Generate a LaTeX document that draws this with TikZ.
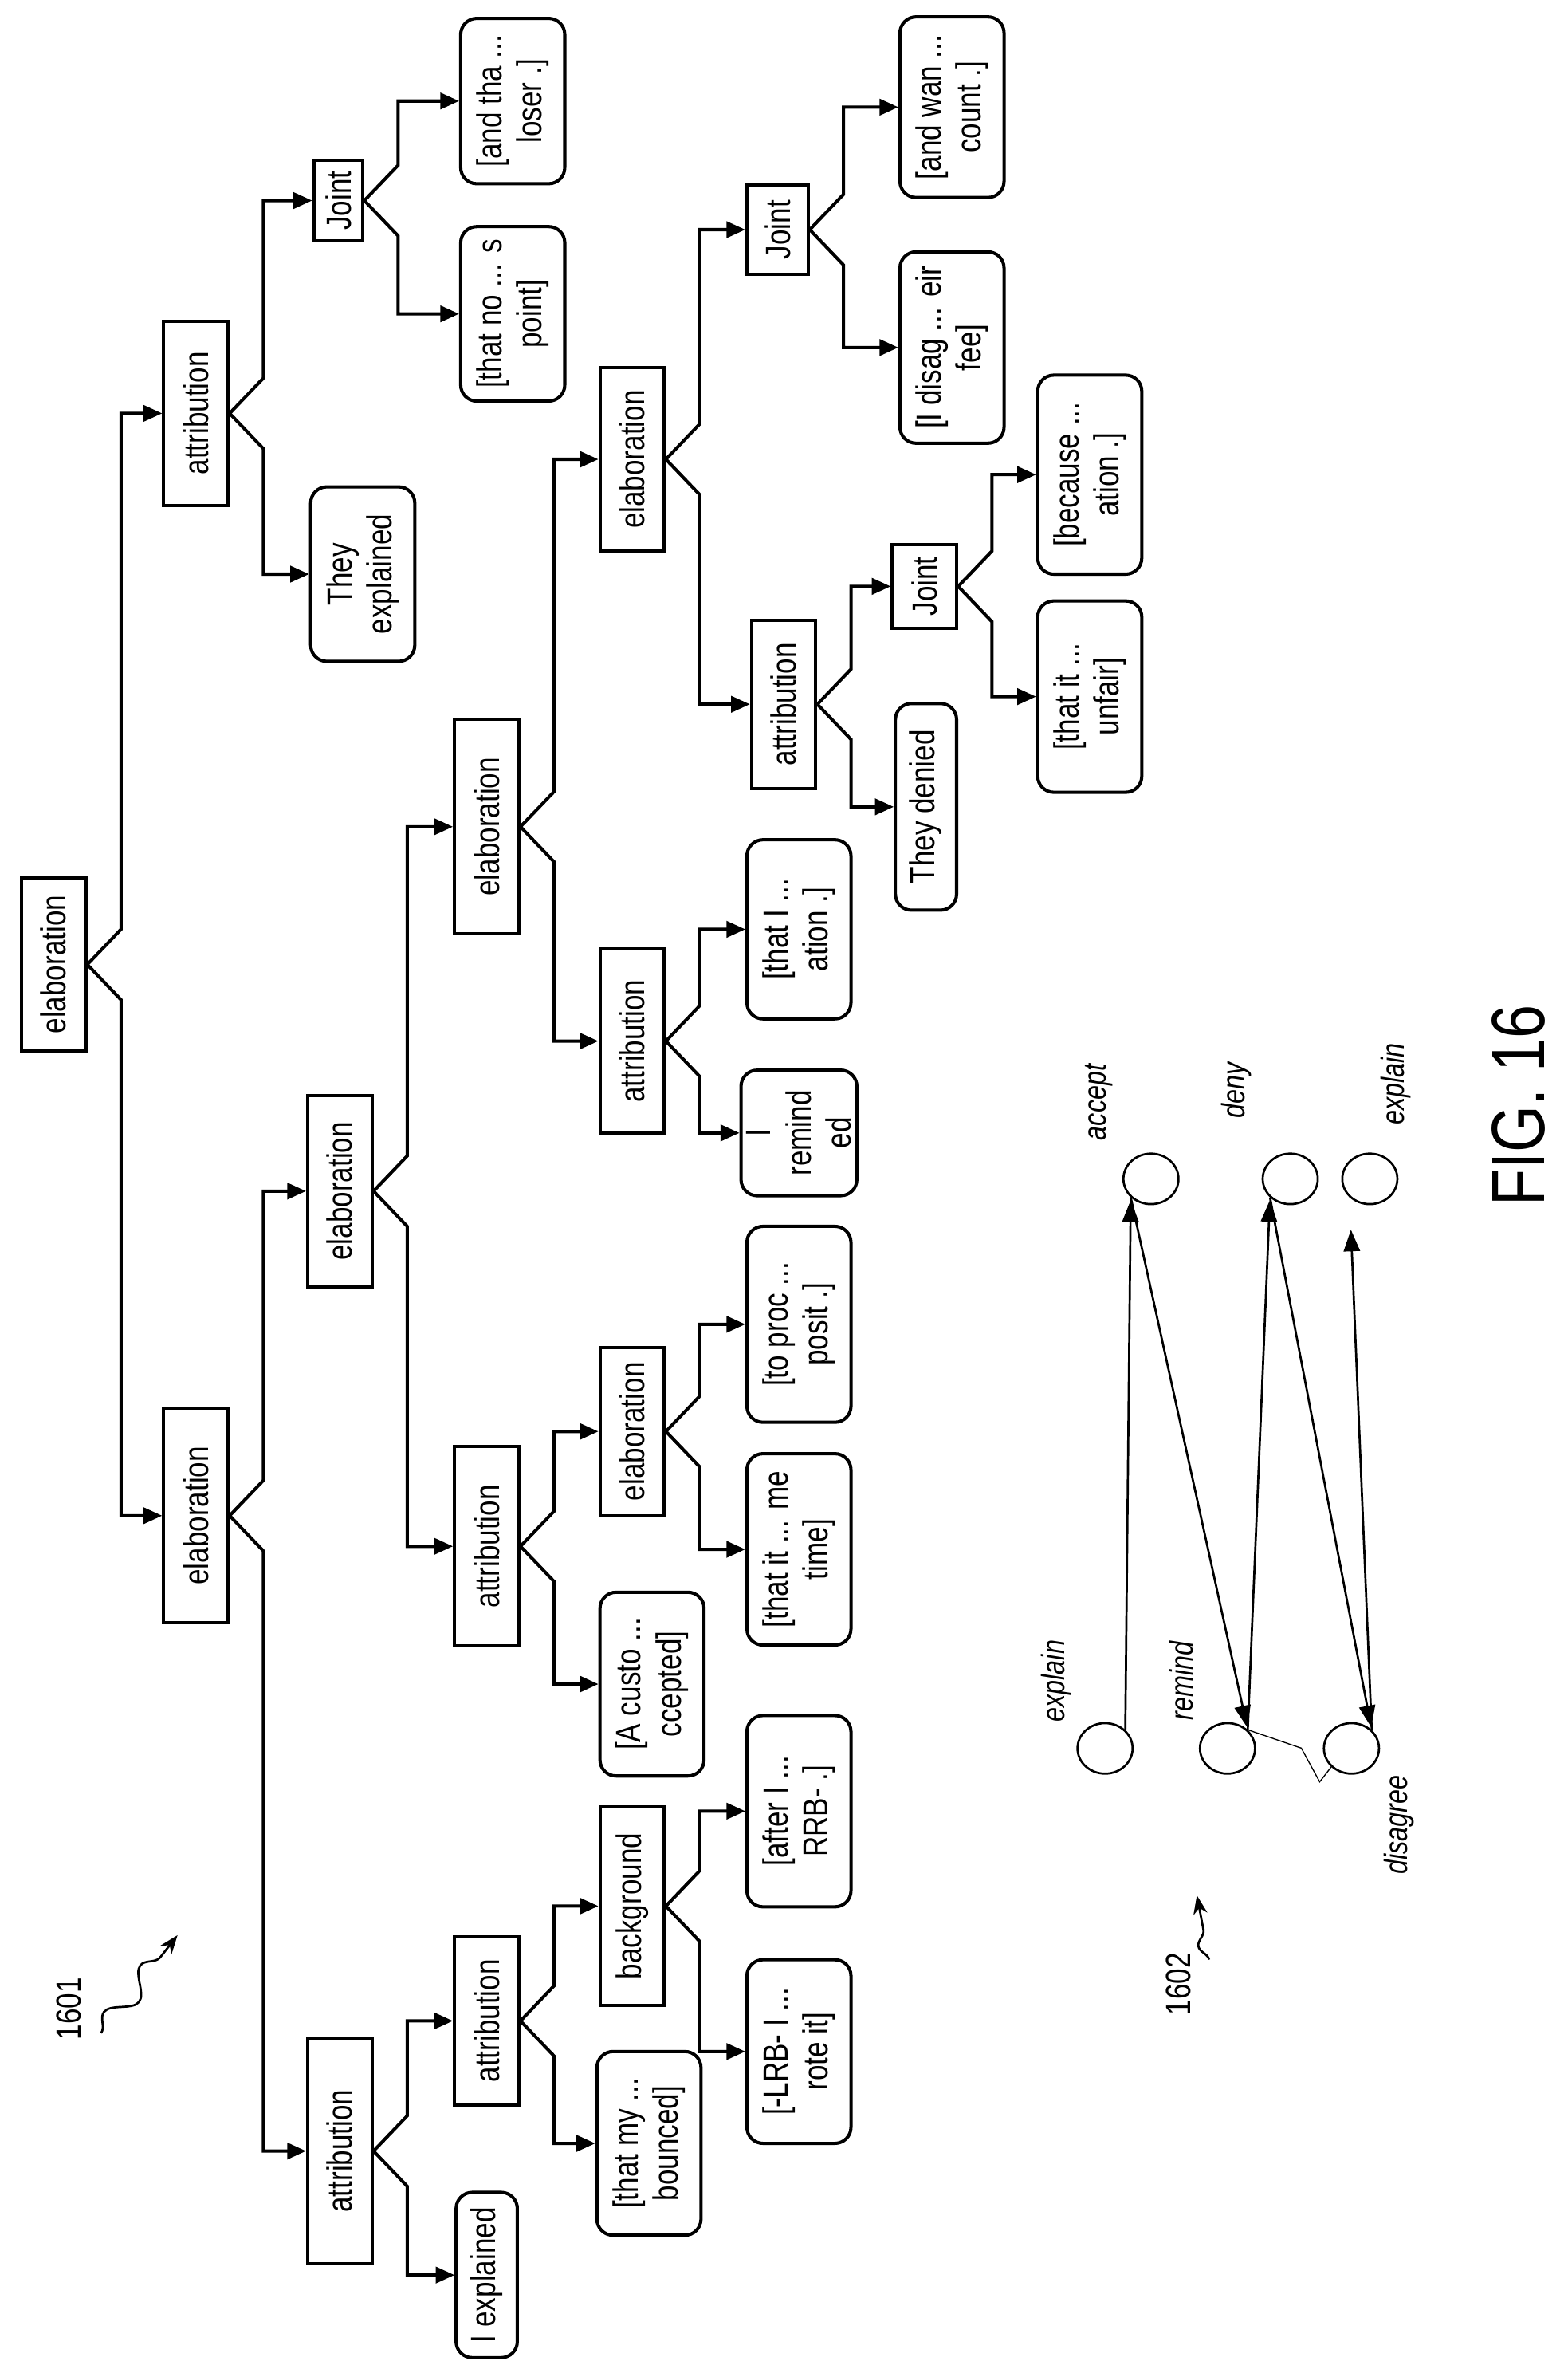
\documentclass[tikz,border=0pt]{standalone}
\usepackage{fontspec}
\setmainfont{Liberation Sans}[FakeStretch=0.8]
\usetikzlibrary{arrows.meta,positioning,decorations.pathmorphing,shapes.geometric}

\tikzset{
  rel/.style={draw, very thick, rotate=90, inner sep=2pt, minimum height=0.84cm,
    font=\fontsize{13}{15}\selectfont, minimum width=#1*0.2mm},
  rel/.default=110,
  edu/.style={draw, very thick, rounded corners=6pt, rotate=90, align=center, inner sep=2pt,
    minimum height=1.36cm, font=\fontsize{13}{15}\selectfont, minimum width=#1*0.2mm},
  edu/.default=120,
  link/.style={very thick, -{Triangle[length=7pt,width=6pt]}},
  act/.style={draw, thick, ellipse, minimum width=7.2mm, minimum height=6.6mm},
  actlabel/.style={rotate=90, font=\itshape\fontsize{12}{14}\selectfont},
  flow/.style={thick, -{Triangle[length=8pt,width=6pt]}, shorten >=1pt},
  refarrow/.style={thick, -{Stealth[length=7pt]}, decorate,
    decoration={snake, amplitude=4pt, segment length=22pt, post length=7pt}},
}

% parent, upper child, lower child
\newcommand{\fork}[3]{%
  \draw[link] (#1.south) -- ++(22,-23) |- (#2.north);
  \draw[link] (#1.south) -- ++(22,23) |- (#3.north);}

\begin{document}
\begin{tikzpicture}[x=0.2mm, y=-0.2mm]
  \useasboundingbox (0,0) rectangle (1024,1550);

  % discourse tree
  \node[rel=113] (e0) at (35,630) {elaboration};
  \node[rel=120] (a1) at (128,270) {attribution};
  \node[rel=140] (e1) at (128,990) {elaboration};
  \node[edu=114] (l1) at (237,375) {They\\explained};
  \node[rel=53, minimum height=0.64cm] (j1) at (221,131) {Joint};
  \node[edu=114] (l2) at (335,205) {[that no ... s\\point]};
  \node[edu=108] (l3) at (335,66) {[and tha ...\\loser .]};
  \node[rel=147] (a2) at (222,1405) {attribution};
  \node[rel=125] (e2) at (222,778) {elaboration};
  \node[edu=108, minimum height=0.8cm] (l4) at (318,1486) {I explained};
  \node[rel=110] (a3) at (318,1320) {attribution};
  \node[edu=120] (l5) at (424,1400) {[that my ...\\bounced]};
  \node[rel=130] (b1) at (413,1245) {background};
  \node[edu=120] (l6) at (522,1340) {[-LRB- I ...\\rote it]};
  \node[edu=125] (l7) at (522,1183) {[after I ...\\RRB- .]};
  \node[rel=130] (a4) at (318,1010) {attribution};
  \node[rel=140] (e3) at (318,540) {elaboration};
  \node[edu=120] (l8) at (426,1100) {[A custo ...\\ccepted]};
  \node[rel=110] (e4) at (413,935) {elaboration};
  \node[edu=125] (l9) at (522,1012) {[that it ... me\\time]};
  \node[edu=128] (l10) at (522,865) {[to proc ...\\posit .]};
  \node[rel=120] (a5) at (413,680) {attribution};
  \node[rel=120] (e5) at (413,300) {elaboration};
  \node[edu=82] (l11) at (522,740) {I\\remind\\ed};
  \node[edu=117] (l12) at (522,607) {[that I ...\\ation .]};
  \node[rel=110] (a6) at (512,460) {attribution};
  \node[rel=58, minimum height=0.8cm] (j2) at (508,150) {Joint};
  \node[edu=125] (l13) at (622,227) {[I disag ... eir\\fee]};
  \node[edu=118] (l14) at (622,70) {[and wan ...\\count .]};
  \node[edu=135, minimum height=0.8cm] (l15) at (605,527) {They denied};
  \node[rel=55, minimum height=0.84cm] (j3) at (604,383) {Joint};
  \node[edu=125] (l16) at (712,455) {[that it ...\\unfair]};
  \node[edu=130] (l17) at (712,310) {[because ...\\ation .]};

  \fork{e0}{a1}{e1}
  \fork{a1}{j1}{l1}
  \fork{j1}{l3}{l2}
  \fork{e1}{e2}{a2}
  \fork{a2}{a3}{l4}
  \fork{a3}{b1}{l5}
  \fork{b1}{l7}{l6}
  \fork{e2}{e3}{a4}
  \fork{a4}{e4}{l8}
  \fork{e4}{l10}{l9}
  \fork{e3}{e5}{a5}
  \fork{a5}{l12}{l11}
  \fork{e5}{j2}{a6}
  \fork{j2}{l14}{l13}
  \fork{a6}{j3}{l15}
  \fork{j3}{l17}{l16}

  \node[rotate=90, font=\fontsize{13}{15}\selectfont] (n1601) at (45,1312) {1601};
  \coordinate (s1601) at (66,1328);
  \coordinate (t1601) at (116,1264);
  \draw[refarrow] (s1601) -- (t1601);

  % speech act graph
  \node[act] (ex1) at (722,1142) {};
  \node[act] (rm) at (802,1142) {};
  \node[act] (dis) at (883,1142) {};
  \node[act] (acc) at (752,770) {};
  \node[act] (dny) at (843,770) {};
  \node[act] (ex2) at (895,770) {};

  \node[actlabel] (lex1) at (690,1098) {explain};
  \node[actlabel] (lrm) at (772,1098) {remind};
  \node[actlabel] (ldis) at (914,1192) {disagree};
  \node[actlabel] (lacc) at (718,720) {accept};
  \node[actlabel] (ldny) at (808,712) {deny};
  \node[actlabel] (lex2) at (912,708) {explain};

  \draw[flow] (ex1.north east) -- (acc.south west);
  \draw[flow] (acc.south west) -- (rm.north east);
  \draw[flow] (rm.north east) -- (dny.south west);
  \draw[flow] (dny.south west) -- (dis.north east);
  \draw[flow, shorten >=12pt] (dis.north east) -- (ex2.south west);
  \draw[thin] (rm.north east) -- ++(35,12) -- ++(12,22) -- (dis.south west);

  \node[rotate=90, font=\fontsize{13}{15}\selectfont] (n1602) at (770,1296) {1602};
  \coordinate (s1602) at (790,1280);
  \coordinate (t1602) at (782,1238);
  \draw[refarrow, decoration={amplitude=3pt, segment length=18pt}] (s1602) -- (t1602);

  \node[rotate=90, font=\fontsize{28}{32}\selectfont] (fig) at (992,722) {FIG. 16};
\end{tikzpicture}
\end{document}
